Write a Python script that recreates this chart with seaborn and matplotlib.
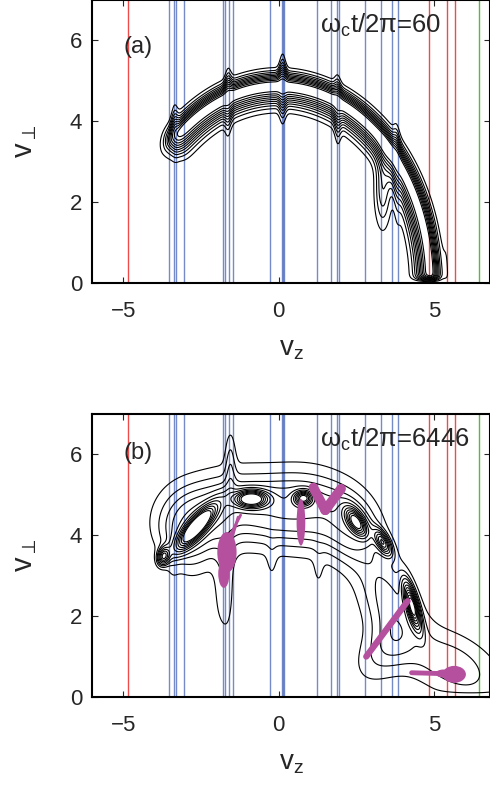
import numpy as np
import matplotlib
matplotlib.use('Agg')
import matplotlib.pyplot as plt
import seaborn as sns
from matplotlib.patches import Ellipse

# ---------------- data ----------------
# resonance positions (v_z) shown as vertical lines
red_lines = [-4.83, 4.85, 5.42, 5.69]
blue_lines = [-3.52, -3.36, -3.31, -3.04, -1.78, -1.71, -1.61, -1.48,
              -0.27, 0.10, 0.13, 0.16, 1.25, 1.69, 1.87, 1.94, 2.78, 3.28, 3.65, 3.85]
green_lines = [6.44]

# panel (a): ring distribution parameters
ring_radius = 4.88
ring_w_out = 0.20
ring_w_in = 0.30
ring_theta_end = 2.36          # rad, left end of the ring
spike_vz = [-3.35, -1.62, 0.13, 1.90, 3.80, 5.42]
spike_out = [0.09, 0.10, 0.15, 0.07, 0.06, 0.05]
spike_in = [0.06, 0.10, 0.12, 0.12, 0.05, 0.00]
tongue_a = [3.35, 2.30, 0.17, 0.60, 0.32]   # vz, vp, sx, sy, amp
levels_a = [0.08, 0.17, 0.26, 0.35, 0.44, 0.53, 0.62, 0.71, 0.80, 0.89]

# panel (b): blobs (vz, vp, s_along, s_across, angle_deg, amp)
blob_vz = [-3.0, -2.0, -0.3, 1.2, 2.4, 3.5, 5.6, 3.4, -1.55, -1.75, -0.22, 1.28, -3.45,
           -3.72, -2.65, -0.88, 0.80, 2.50, 3.35, 4.30]
blob_vp = [4.15, 4.6, 4.6, 4.6, 4.1, 2.4, 0.8, 1.15, 5.8, 2.7, 3.3, 3.1, 2.9,
           3.45, 4.20, 4.90, 4.92, 4.33, 3.83, 2.25]
blob_sa = [0.7, 0.9, 0.9, 0.9, 0.65, 0.9, 1.2, 0.75, 0.55, 0.9, 0.35, 0.35, 0.35,
           0.16, 0.55, 0.35, 0.20, 0.30, 0.25, 0.40]
blob_sb = [0.7, 0.6, 0.6, 0.65, 0.55, 0.55, 0.55, 0.45, 0.12, 0.22, 0.12, 0.12, 0.15,
           0.12, 0.16, 0.14, 0.12, 0.15, 0.12, 0.12]
blob_ang = [50, 20, 0, -10, -45, -60, -20, 35, 90, 90, 90, 90, 90,
            60, 40, 0, 0, -45, -50, -70]
blob_amp = [0.22, 0.22, 0.24, 0.24, 0.22, 0.20, 0.16, 0.12, 0.12, 0.11, 0.05, 0.05, 0.06,
            0.75, 0.85, 0.80, 0.60, 0.65, 0.55, 0.80]
levels_b = [0.06, 0.12, 0.18, 0.24, 0.32, 0.40, 0.48, 0.56, 0.64, 0.72, 0.80]

# panel (b): magenta particle clouds as ellipses (vz, vp, width, height)
mag_ell_vz = [-1.66, -1.76, 0.72, 5.65, 5.30]
mag_ell_vp = [3.58, 3.05, 4.32, 0.56, 0.58]
mag_ell_w = [0.62, 0.36, 0.28, 0.75, 0.50]
mag_ell_h = [1.00, 0.70, 1.15, 0.42, 0.20]
# magenta streaks (start vz, start vp, end vz, end vp, width_pt)
mag_seg_x0 = [-1.62, -1.55, 1.12, 2.01, 2.82, 4.28]
mag_seg_y0 = [3.90, 3.80, 5.18, 5.15, 1.00, 0.60]
mag_seg_x1 = [-1.22, -1.30, 1.50, 1.50, 4.15, 5.20]
mag_seg_y1 = [4.50, 4.45, 4.62, 4.62, 2.37, 0.58]
mag_seg_lw = [2.0, 2.0, 7.0, 7.0, 4.5, 3.5]

titles = [r'ω$_\mathregular{c}$t/2π=60', r'ω$_\mathregular{c}$t/2π=6446']
panel_tags = ['(a)', '(b)']
tag_y = [0.834, 0.862]
xticks = [-5, 0, 5]
yticks = [0, 2, 4, 6]

# ---------------- style ----------------
sns.set_style('ticks')
plt.rcParams['font.family'] = ['Liberation Sans', 'DejaVu Sans']
plt.rcParams['mathtext.fontset'] = 'custom'
plt.rcParams['mathtext.rm'] = 'Liberation Sans'
plt.rcParams['mathtext.it'] = 'Liberation Sans'
plt.rcParams['mathtext.default'] = 'regular'

RED = '#ee4b4b'
BLUE = '#4563b8'
GREEN = '#5cb545'
MAG = '#b4509e'

vz = np.linspace(-6.0, 6.8, 520)
vp = np.linspace(0.0, 7.0, 320)
VZ, VP = np.meshgrid(vz, vp)


def field_a():
    r = np.hypot(VZ, VP)
    th = np.arctan2(VP, VZ)
    wo = ring_w_out + sum(a * np.exp(-0.5 * ((VZ - c) / 0.08) ** 2) for c, a in zip(spike_vz, spike_out))
    wi = ring_w_in + sum(a * np.exp(-0.5 * ((VZ - c) / 0.08) ** 2) for c, a in zip(spike_vz, spike_in))
    d = r - ring_radius
    w = np.where(d > 0, wo, wi)
    f = np.exp(-0.5 * (d / w) ** 2)
    tz, tp, sx, sy, am = tongue_a
    f = f + am * np.exp(-0.5 * ((VZ - tz) / sx) ** 2 - 0.5 * ((VP - tp) / sy) ** 2)
    g = 1.0 / (1.0 + np.exp((th - ring_theta_end) / 0.03))
    g *= 1.0 - np.exp(-(VP / 0.12) ** 2)
    return f * g


def field_b():
    f = np.zeros_like(VZ)
    for cx, cy, sa, sb, an, am in zip(blob_vz, blob_vp, blob_sa, blob_sb, blob_ang, blob_amp):
        t = np.deg2rad(an)
        u = (VZ - cx) * np.cos(t) + (VP - cy) * np.sin(t)
        v = -(VZ - cx) * np.sin(t) + (VP - cy) * np.cos(t)
        f += am * np.exp(-0.5 * ((u / sa) ** 2 + (v / sb) ** 2))
    th = np.arctan2(VP, VZ)
    f *= 1.0 / (1.0 + np.exp((th - 2.42) / 0.04))
    f *= 1.0 - np.exp(-(VP / 0.1) ** 2)
    return f


W, H = 490, 791
fig = plt.figure(figsize=(W / 100, H / 100), dpi=100)
axes = [fig.add_axes([92 / W, 1 - 283 / H, 398 / W, 283 / H]),
        fig.add_axes([92 / W, 1 - 697 / H, 398 / W, 283 / H])]
fields = [field_a(), field_b()]
levels = [levels_a, levels_b]

for i, ax in enumerate(axes):
    for x in red_lines:
        ax.axvline(x, color=RED, lw=1.0, zorder=1)
    for x in blue_lines:
        ax.axvline(x, color=BLUE, lw=1.0, alpha=0.75, zorder=1)
    for x in green_lines:
        ax.axvline(x, color=GREEN, lw=1.0, zorder=1)
    ax.contour(VZ, VP, fields[i], levels=levels[i], colors='k', linewidths=0.8, zorder=2)
    ax.set_xlim(-6.0, 6.8)
    ax.set_ylim(0, 7)
    ax.set_xticks(xticks)
    ax.set_yticks(yticks)
    ax.set_xticklabels([f'{t:d}'.replace('-', '\u2212') for t in xticks])
    ax.tick_params(direction='in', top=True, right=True, length=4, width=0.8,
                   labelsize=16)
    ax.tick_params(axis='x', pad=13)
    ax.tick_params(axis='y', pad=7)
    for s in ax.spines.values():
        s.set_linewidth(1.5)
        s.set_color('k')
        s.set_visible(True)
    ax.set_xlabel(r'v$_\mathregular{z}$', fontsize=20, labelpad=10)
    ax.set_ylabel(r'v$_\mathregular{\perp}$', fontsize=21, labelpad=22)
    ax.text(0.573, 0.883, titles[i], transform=ax.transAxes, fontsize=18.5,
            ha='left', va='baseline', zorder=5)
    ax.text(0.078, tag_y[i], panel_tags[i], transform=ax.transAxes, fontsize=17,
            ha='left', va='center', zorder=5)

axb = axes[1]
for cx, cy, w, h in zip(mag_ell_vz, mag_ell_vp, mag_ell_w, mag_ell_h):
    axb.add_patch(Ellipse((cx, cy), w, h, color=MAG, zorder=3, lw=0))
for x0, y0, x1, y1, lw in zip(mag_seg_x0, mag_seg_y0, mag_seg_x1, mag_seg_y1, mag_seg_lw):
    axb.plot([x0, x1], [y0, y1], color=MAG, lw=lw, solid_capstyle='round', zorder=3)

fig.savefig('out.png', dpi=100)
